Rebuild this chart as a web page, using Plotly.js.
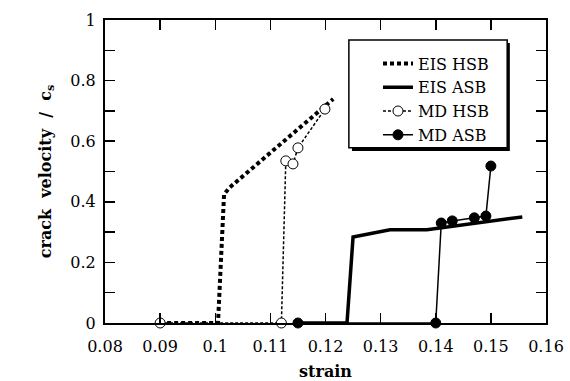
<!DOCTYPE html>
<html>
<head>
<meta charset="utf-8">
<script src="https://cdn.plot.ly/plotly-3.0.1.min.js"></script>
<style>
html,body{margin:0;padding:0;background:#fff;}
#chart{width:570px;height:381px;}
</style>
</head>
<body>
<div id="chart"></div>
<script>
// Data
var eisHsbX = [0.09, 0.1005, 0.1016, 0.1026, 0.1214];
var eisHsbY = [0, 0, 0.425, 0.447, 0.739];

var eisAsbX = [0.115, 0.1239, 0.1250, 0.1317, 0.1384, 0.1557];
var eisAsbY = [0, 0, 0.284, 0.308, 0.308, 0.350];

var mdHsbX = [0.09, 0.112, 0.1128, 0.1141, 0.1150, 0.1199];
var mdHsbY = [0, 0, 0.535, 0.525, 0.578, 0.706];

var mdAsbX = [0.115, 0.140, 0.1410, 0.1430, 0.1470, 0.1491, 0.1500];
var mdAsbY = [0, 0, 0.330, 0.337, 0.347, 0.353, 0.518];

var seriesNames = ["EIS HSB", "EIS ASB", "MD HSB", "MD ASB"];
var xTitle = "strain";
var yTitle = "crack&nbsp; velocity&nbsp; /&nbsp; c<sub>s</sub>";

var serif = "DejaVu Serif";

var traces = [
  {x: eisHsbX, y: eisHsbY, name: seriesNames[0], mode: "lines",
   line: {color: "#000", width: 4, dash: "4px,3px"}, cliponaxis: false},
  {x: eisAsbX, y: eisAsbY, name: seriesNames[1], mode: "lines",
   line: {color: "#000", width: 3.5}, cliponaxis: false},
  {x: mdHsbX, y: mdHsbY, name: seriesNames[2], mode: "lines+markers",
   line: {color: "#000", width: 1.5, dash: "3px,2px"},
   marker: {symbol: "circle", size: 10, color: "#fff", line: {color: "#000", width: 1}},
   cliponaxis: false},
  {x: mdAsbX, y: mdAsbY, name: seriesNames[3], mode: "lines+markers",
   line: {color: "#000", width: 1.5},
   marker: {symbol: "circle", size: 10, color: "#000", line: {color: "#000", width: 1}},
   cliponaxis: false}
];

var layout = {
  width: 570, height: 381,
  margin: {l: 105, r: 24, t: 20, b: 58},
  paper_bgcolor: "#fff", plot_bgcolor: "#fff",
  font: {family: serif, color: "#000"},
  showlegend: true,
  legend: {
    x: 0.619, xanchor: "left", y: 0.9125, yanchor: "top",
    bgcolor: "rgba(0,0,0,0)", borderwidth: 0,
    font: {family: serif, size: 16, color: "#000"},
    tracegroupgap: 0
  },
  xaxis: {
    range: [0.08, 0.16], tick0: 0.08, dtick: 0.01,
    ticks: "inside", ticklen: 10, tickwidth: 1.5, tickcolor: "#000",
    showline: true, linewidth: 2, linecolor: "#000", mirror: "ticks",
    showgrid: false, zeroline: false, ticklabelstandoff: 8,
    tickfont: {family: serif, size: 16, color: "#000"},
    title: {text: "<b>" + xTitle + "</b>", font: {family: serif, size: 16, color: "#000"}, standoff: 12}
  },
  yaxis: {
    range: [0, 1], tick0: 0, dtick: 0.2,
    ticks: "inside", ticklen: 10, tickwidth: 1.5, tickcolor: "#000",
    minor: {dtick: 0.1, ticks: "inside", ticklen: 10, tickwidth: 1.5, tickcolor: "#000", showgrid: false},
    showline: true, linewidth: 2, linecolor: "#000", mirror: "ticks",
    showgrid: false, zeroline: false, ticklabelstandoff: 4,
    tickfont: {family: serif, size: 16, color: "#000"},
    title: {text: "<b>" + yTitle + "</b>", font: {family: serif, size: 16, color: "#000"}, standoff: 15}
  },
  shapes: [
    {type: "rect", xref: "paper", yref: "paper", x0: 0.560, x1: 0.918, y0: 0.568, y1: 0.924,
     fillcolor: "#000", line: {color: "#000", width: 0}, layer: "above"},
    {type: "rect", xref: "paper", yref: "paper", x0: 0.553, x1: 0.912, y0: 0.578, y1: 0.934,
     fillcolor: "#fff", line: {color: "#000", width: 1.5}, layer: "above"}
  ]
};

Plotly.newPlot("chart", traces, layout, {displayModeBar: false, staticPlot: true});
</script>
</body>
</html>
